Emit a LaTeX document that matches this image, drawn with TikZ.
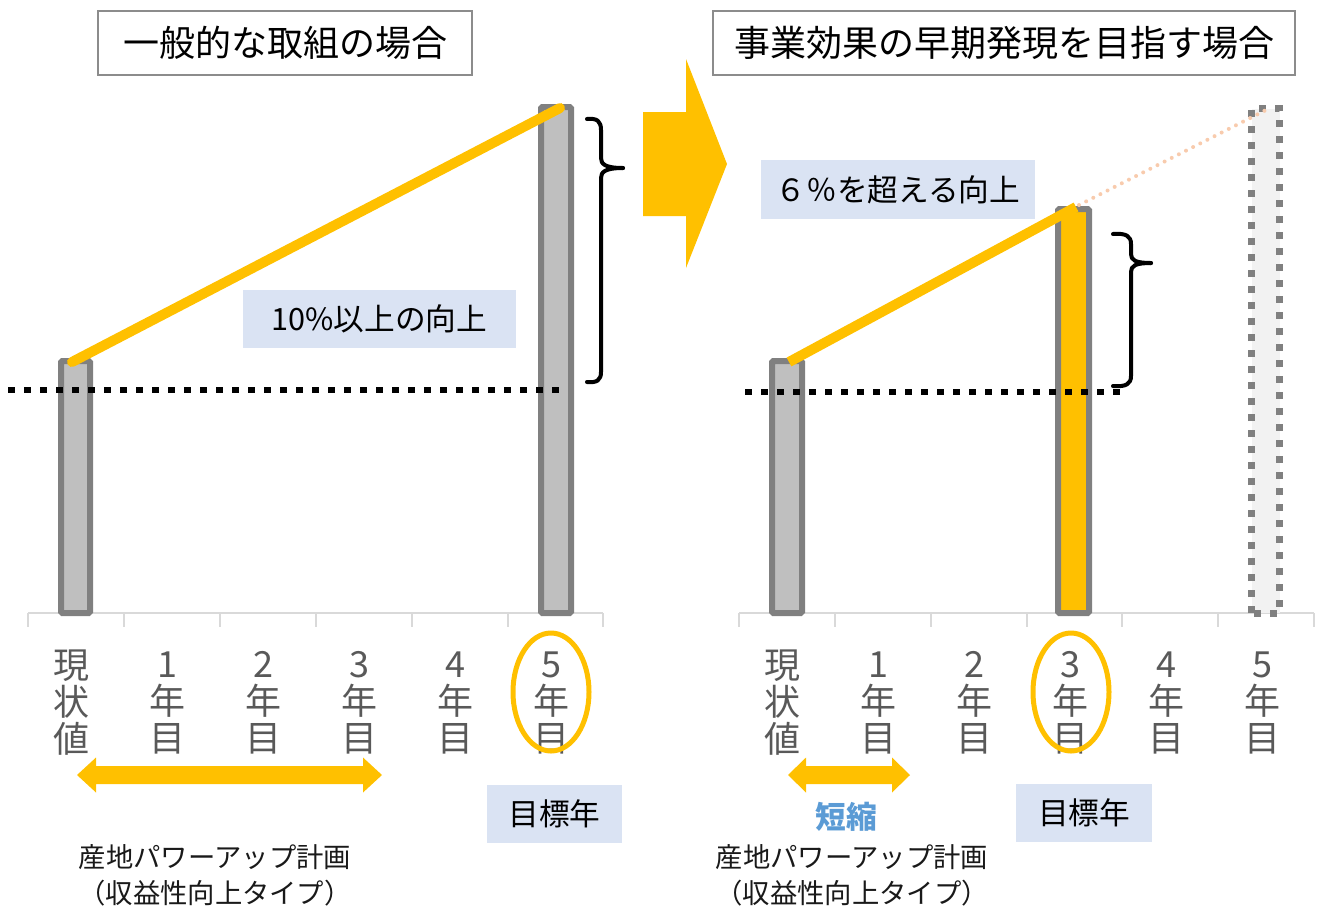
\documentclass[tikz,border=0pt]{standalone}
\usepackage{fontspec}
\setmainfont{Noto Sans CJK JP}
\usetikzlibrary{shapes.geometric}
\definecolor{ygold}{HTML}{FFC000}
\definecolor{bargray}{HTML}{808080}
\definecolor{barfill}{HTML}{BFBFBF}
\definecolor{lblue}{HTML}{DAE3F3}
\definecolor{axisgray}{HTML}{D9D9D9}
\definecolor{txtgray}{HTML}{595959}
\definecolor{peach}{HTML}{F8CBAD}
\definecolor{ghost}{HTML}{F2F2F2}
\definecolor{sblue}{HTML}{5B9BD5}
\definecolor{titlegray}{HTML}{8C8C8C}
\newcommand\fTitle{\fontsize{27pt}{30pt}\selectfont}
\newcommand\fAxis{\fontsize{27pt}{27.75pt}\selectfont}
\newcommand\fLabel{\fontsize{23pt}{26pt}\selectfont}
\newcommand\fPlan{\fontsize{20.5pt}{27pt}\selectfont}
\tikzset{
  titlebox/.style={draw=titlegray, line width=1.5pt, fill=white, inner sep=0pt, font=\fTitle, minimum height=48pt},
  lblbox/.style={fill=lblue, inner sep=0pt, font=\fLabel, minimum height=43.5pt},
  barbox/.style={draw=bargray, fill=barfill, line width=4.5pt, rounded corners=1pt},
  yline/.style={draw=ygold, line width=7.5pt},
  blackdots/.style={draw=black, line width=4.8pt, dash pattern=on 5.25pt off 6.75pt},
  peachdots/.style={draw=peach, line width=3pt, line cap=round, dash pattern=on 0pt off 6pt},
  axisline/.style={draw=axisgray, line width=1.5pt},
  axlabel/.style={font=\fAxis, text=txtgray, align=center, inner sep=0pt},
  hilite/.style={ellipse, draw=ygold, line width=3.75pt, minimum width=57pt, minimum height=88.5pt, inner sep=0pt},
  bracestyle/.style={draw=black, line width=3pt, line cap=round, line join=round},
  yarrow/.style={fill=ygold, draw=none},
  plan/.style={font=\fPlan, align=center, inner sep=0pt, text=black!90},
}
\begin{document}
\begin{tikzpicture}[x=0.75pt,y=-0.75pt]
\useasboundingbox (0,0) rectangle (1325,908);

% ---------- titles ----------
\node[titlebox, minimum width=280.5pt] (t1) at (285,42.5) {一般的な取組の場合};
\node[titlebox, minimum width=436.5pt] (t2) at (1004,42.5) {事業効果の早期発現を目指す場合};

% ---------- axes ----------
\draw[axisline] (28,613) -- (603,613);
\foreach \x in {28,124,220,316,412,508,603} \draw[axisline] (\x,613) -- (\x,627);
\draw[axisline] (739,613) -- (1314,613);
\foreach \x in {739,835,931,1027,1122,1218,1314} \draw[axisline] (\x,613) -- (\x,627);

% ---------- left panel bars ----------
\draw[barbox] (61,613) rectangle (90,361);
\draw[barbox] (541,613) rectangle (571,107);
\coordinate (L0) at (72,362);
\coordinate (L5) at (560,108);
\draw[yline, line cap=round] (L0) -- (L5);
\coordinate (Ld1) at (8,390);
\coordinate (Ld2) at (560,390);
\draw[blackdots] (Ld1) -- (Ld2);

% left brace
\draw[bracestyle] (587,119) .. controls (597,118) and (601,121) .. (601,130) -- (601,158)
   .. controls (601,164) and (605,168) .. (623,168);
\draw[bracestyle] (623,168) .. controls (605,168) and (601,172) .. (601,178) -- (601,372)
   .. controls (601,380) and (597,383) .. (587,382);

\node[lblbox, minimum width=204.75pt] (g1) at (379.5,319) {10\%以上の向上};

% ---------- right panel bars ----------
\draw[draw=bargray, fill=ghost, line width=5.25pt, dash pattern=on 5.25pt off 6.75pt] (1251.5,613) rectangle (1279.5,108.5);
\draw[barbox] (772,613) rectangle (802,361);
\draw[barbox, fill=ygold] (1058,613) rectangle (1089,209);
\coordinate (R0) at (789,362);
\coordinate (R3) at (1076,207);
\coordinate (R5) at (1266,110);
\draw[peachdots] (1079,205) -- (R5);
\draw[yline] (R0) -- (R3);
\coordinate (Rd1) at (745,392);
\coordinate (Rd2) at (1120,392);
\draw[blackdots] (Rd1) -- (Rd2);

% right brace
\draw[bracestyle] (1113,234) .. controls (1126,233) and (1131,236) .. (1131,244) -- (1131,254)
   .. controls (1131,260) and (1135,263) .. (1151,263);
\draw[bracestyle] (1151,263) .. controls (1135,263) and (1131,266) .. (1131,272) -- (1131,376)
   .. controls (1131,384) and (1126,387) .. (1113,386);

\node[lblbox, minimum width=205.5pt, minimum height=44.25pt] (g2) at (898,189.5) {６％を超える向上};

% ---------- big arrow ----------
\fill[yarrow] (643,112) -- (686,112) -- (686,59) -- (727,164) -- (686,268) -- (686,216) -- (643,216) -- cycle;

% ---------- axis labels ----------
\foreach \x/\t [count=\i] in {71/現\\状\\値, 167/1\\年\\目, 263/2\\年\\目, 359/3\\年\\目, 455/4\\年\\目, 551/5\\年\\目}
  \node[axlabel] (la\i) at (\x,703) {\t};
\foreach \x/\t [count=\i] in {782/現\\状\\値, 878/1\\年\\目, 974/2\\年\\目, 1070/3\\年\\目, 1166/4\\年\\目, 1262/5\\年\\目}
  \node[axlabel] (ra\i) at (\x,703) {\t};

\node[hilite] (e1) at (551,692) {};
\node[hilite] (e2) at (1071,692) {};

% ---------- double arrows ----------
\fill[yarrow] (77,775) -- (96,757.5) -- (96,766) -- (363,766) -- (363,757.5) -- (382,775)
   -- (363,792.5) -- (363,784) -- (96,784) -- (96,792.5) -- cycle;
\fill[yarrow] (788,775) -- (806,757.5) -- (806,766) -- (892,766) -- (892,757.5) -- (910,775)
   -- (892,792.5) -- (892,784) -- (806,784) -- (806,792.5) -- cycle;

% ---------- bottom labels ----------
\node[lblbox, minimum width=101.25pt] (y1) at (554.5,814) {目標年};
\node[lblbox, minimum width=102pt] (y2) at (1084,813) {目標年};
\node[font=\fLabel\bfseries, text=sblue, inner sep=0pt] (s2) at (846,817) {短縮};
\node[plan] (p1) at (215,875) {産地パワーアップ計画\\（収益性向上タイプ）};
\node[plan] (p2) at (852,875) {産地パワーアップ計画\\（収益性向上タイプ）};
\end{tikzpicture}
\end{document}
